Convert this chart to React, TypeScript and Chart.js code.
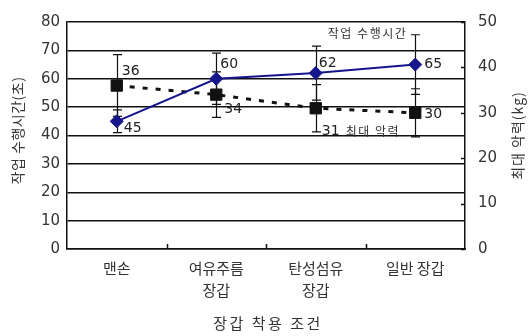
import React, { useEffect, useRef } from 'react';
import { Chart, registerables } from 'chart.js';

Chart.register(...registerables);

// ---- data ----
const categories: string[][] = [['맨손'], ['여유주름', '장갑'], ['탄성섬유', '장갑'], ['일반 장갑']];
const workTime = [45, 60, 62, 65];        // 작업 수행시간 (초), left axis
const workTimeErr = [4, 9, 9.5, 10.5];
const grip = [36, 34, 31, 30];            // 최대 악력 (kg), right axis
const gripErr = [6.8, 5, 5.2, 5.3];
const leftTicks = [0, 10, 20, 30, 40, 50, 60, 70, 80];
const rightTicks = [0, 10, 20, 30, 40, 50];

const leftTitle = '작업 수행시간(초)';
const rightTitle = '최대 악력(kg)';
const xTitle = '장갑 착용 조건';
const workLabel = '작업 수행시간';
const gripLabel = '최대 악력';

// label placement (dx, dy from the point)
const workLabelOffsets = [[7, 7], [4, -14], [3, -10], [9, 0]];
const gripLabelOffsets = [[5, -14], [8, 15], [6, 23], [9, 2]];

const NAVY = '#15158c';
const INK = '#111111';
const TEXT = '#333333';
const NUM_FONT = '"DejaVu Sans", sans-serif';
const KR_FONT = '"Noto Sans CJK KR", sans-serif';

const customPlugin = {
  id: 'custom',
  beforeDatasetsDraw(chart: any) {
    const { ctx, chartArea } = chart;
    const x = chart.scales.x;
    const y = chart.scales.y;
    const y1 = chart.scales.y1;
    ctx.save();
    ctx.strokeStyle = INK;
    ctx.lineWidth = 1.2;
    const drawErr = (vals: number[], errs: number[], scale: any) => {
      vals.forEach((v, i) => {
        const px = Math.round(x.getPixelForValue(i)) + 0.5;
        const top = scale.getPixelForValue(v + errs[i]);
        const bot = scale.getPixelForValue(v - errs[i]);
        ctx.beginPath();
        ctx.moveTo(px, top);
        ctx.lineTo(px, bot);
        ctx.moveTo(px - 4.5, top);
        ctx.lineTo(px + 4.5, top);
        ctx.moveTo(px - 4.5, bot);
        ctx.lineTo(px + 4.5, bot);
        ctx.stroke();
      });
    };
    drawErr(workTime, workTimeErr, y);
    drawErr(grip, gripErr, y1);

    // inner tick marks on x axis (category boundaries)
    ctx.lineWidth = 1.5;
    for (let i = 1; i < categories.length; i++) {
      const bx = Math.round((x.getPixelForValue(i - 1) + x.getPixelForValue(i)) / 2) + 0.5;
      ctx.beginPath();
      ctx.moveTo(bx, chartArea.bottom);
      ctx.lineTo(bx, chartArea.bottom - 5);
      ctx.stroke();
    }
    // inner tick marks on right axis
    rightTicks.forEach((t) => {
      const py = Math.round(y1.getPixelForValue(t)) + 0.5;
      ctx.beginPath();
      ctx.moveTo(chartArea.right, py);
      ctx.lineTo(chartArea.right - 4, py);
      ctx.stroke();
    });
    ctx.restore();
  },
  afterDraw(chart: any) {
    const { ctx, chartArea } = chart;
    const x = chart.scales.x;
    const y = chart.scales.y;
    const y1 = chart.scales.y1;
    ctx.save();
    // value labels
    ctx.fillStyle = '#222';
    ctx.font = `14px ${NUM_FONT}`;
    ctx.textAlign = 'left';
    ctx.textBaseline = 'middle';
    workTime.forEach((v, i) => {
      const px = x.getPixelForValue(i);
      const py = y.getPixelForValue(v);
      ctx.fillText(String(v), px + workLabelOffsets[i][0], py + workLabelOffsets[i][1]);
    });
    grip.forEach((v, i) => {
      const px = x.getPixelForValue(i);
      const py = y1.getPixelForValue(v);
      ctx.fillText(String(v), px + gripLabelOffsets[i][0], py + gripLabelOffsets[i][1]);
    });

    // series annotations
    ctx.font = `12px ${KR_FONT}`;
    (ctx as any).letterSpacing = '1.5px';
    ctx.fillStyle = TEXT;
    const last = workTime.length - 1;
    ctx.textAlign = 'right';
    ctx.fillText(workLabel, x.getPixelForValue(last) - 8, y.getPixelForValue(workTime[last] + workTimeErr[last]) - 1);
    ctx.textAlign = 'left';
    const gi = 2;
    ctx.fillText(gripLabel, x.getPixelForValue(gi) + 30, y1.getPixelForValue(grip[gi]) + gripLabelOffsets[gi][1]);

    // axis titles
    ctx.fillStyle = TEXT;
    ctx.font = `14px ${KR_FONT}`;
    (ctx as any).letterSpacing = '0.5px';
    ctx.textAlign = 'center';
    ctx.textBaseline = 'middle';
    const midY = (chartArea.top + chartArea.bottom) / 2;
    ctx.save();
    ctx.translate(18, midY - 5);
    ctx.rotate(-Math.PI / 2);
    ctx.fillText(leftTitle, 0, 0);
    ctx.restore();

    (ctx as any).letterSpacing = '1px';
    ctx.save();
    ctx.translate(518, midY);
    ctx.rotate(-Math.PI / 2);
    ctx.fillText(rightTitle, 0, 0);
    ctx.restore();

    ctx.font = `15px ${KR_FONT}`;
    (ctx as any).letterSpacing = '2.5px';
    ctx.fillText(xTitle, (chartArea.left + chartArea.right) / 2 + 2, 323);
    (ctx as any).letterSpacing = '0px';
    ctx.restore();
  },
};

export default function App() {
  const ref = useRef<HTMLCanvasElement | null>(null);
  useEffect(() => {
    document.body.style.margin = '0';
    document.body.style.background = '#ffffff';
    const canvas = ref.current!;
    const chart = new Chart(canvas, {
      type: 'line',
      data: {
        labels: categories,
        datasets: [
          {
            label: workLabel,
            data: workTime,
            yAxisID: 'y',
            borderColor: NAVY,
            backgroundColor: NAVY,
            borderWidth: 2,
            pointStyle: 'rectRot',
            pointRadius: 6.5,
            pointBorderWidth: 1,
            tension: 0,
          },
          {
            label: gripLabel,
            data: grip,
            yAxisID: 'y1',
            borderColor: INK,
            backgroundColor: INK,
            borderWidth: 3,
            borderDash: [5, 8],
            pointStyle: 'rect',
            pointRadius: 8,
            pointBorderWidth: 1,
            tension: 0,
          },
        ],
      },
      options: {
        animation: false,
        responsive: false,
        devicePixelRatio: 1,
        layout: { padding: { top: 12, left: 0, right: 0, bottom: 0 } },
        plugins: {
          legend: { display: false },
          tooltip: { enabled: false },
        },
        scales: {
          x: {
            type: 'category',
            offset: true,
            grid: { display: false, drawTicks: false },
            border: { display: true, color: INK, width: 1.5 },
            ticks: {
              color: TEXT,
              font: { family: KR_FONT, size: 15, lineHeight: 1.47 },
              padding: 8,
              maxRotation: 0,
              autoSkip: false,
            },
            afterFit: (s: any) => {
              s.height = 87;
            },
          },
          y: {
            position: 'left',
            min: 0,
            max: 80,
            afterBuildTicks: (s: any) => {
              s.ticks = leftTicks.map((v) => ({ value: v }));
            },
            grid: { color: INK, lineWidth: 1.5, drawTicks: false },
            border: { display: true, color: INK, width: 1.5 },
            ticks: { color: TEXT, font: { family: NUM_FONT, size: 15 }, padding: 7 },
            afterFit: (s: any) => {
              s.width = 67;
            },
          },
          y1: {
            position: 'right',
            min: 0,
            max: 50,
            afterBuildTicks: (s: any) => {
              s.ticks = rightTicks.map((v) => ({ value: v }));
            },
            grid: { display: false, drawOnChartArea: false, drawTicks: false },
            border: { display: true, color: INK, width: 1.5 },
            ticks: { color: TEXT, font: { family: NUM_FONT, size: 15 }, padding: 13 },
            afterFit: (s: any) => {
              s.width = 66;
            },
          },
        },
      },
      plugins: [customPlugin],
    } as any);
    return () => chart.destroy();
  }, []);
  return <canvas ref={ref} width={531} height={336} style={{ display: 'block', width: 531, height: 336 }} />;
}
